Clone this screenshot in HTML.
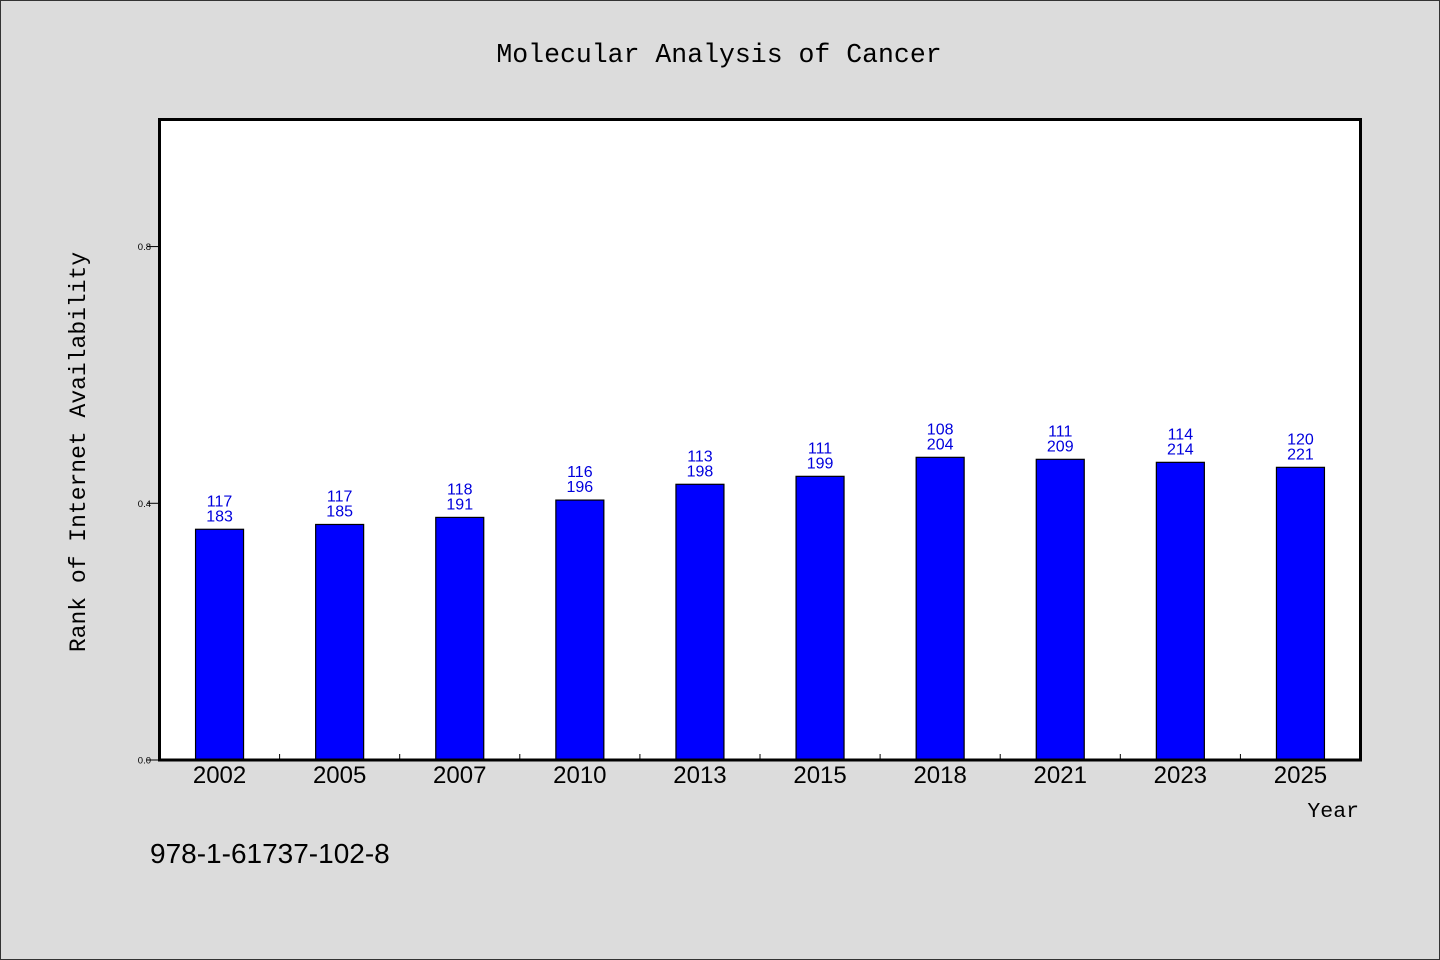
<!DOCTYPE html>
<html><head><meta charset="utf-8"><style>
html,body{margin:0;padding:0;background:#dcdcdc;}
svg{display:block;}
</style></head><body>
<svg width="1440" height="960" viewBox="0 0 1440 960" xmlns="http://www.w3.org/2000/svg">
<rect x="0.5" y="0.5" width="1439" height="959" fill="#dcdcdc" stroke="#333"/>
<text x="719" y="62" text-anchor="middle" font-family="Liberation Mono, monospace" font-size="26.5" fill="#000">Molecular Analysis of Cancer</text>
<rect x="160" y="120" width="1200" height="640" fill="#fff"/>
<g id="bars"></g>
<g id="axes"></g>
<text transform="translate(85,452) rotate(-90)" text-anchor="middle" font-family="Liberation Mono, monospace" font-size="23" fill="#000">Rank of Internet Availability</text>
<text x="1359" y="817" text-anchor="end" font-family="Liberation Mono, monospace" font-size="21.5" fill="#000">Year</text>
<text x="150" y="863" font-family="Liberation Sans, sans-serif" font-size="28" fill="#000">978-1-61737-102-8</text>
</svg>
<script>
const categories = ["2002","2005","2007","2010","2013","2015","2018","2021","2023","2025"];
const values = [0.3595,0.367,0.378,0.405,0.4296,0.442,0.4716,0.4685,0.4638,0.456];
const labelTop = ["117","117","118","116","113","111","108","111","114","120"];
const labelBottom = ["183","185","191","196","198","199","204","209","214","221"];
const yTicks = [0.0,0.4,0.8];
const yTickLabels = ["0.0","0.4","0.8"];

const NS="http://www.w3.org/2000/svg";
const L=159.5,R=1360.5,T=119.5,B=760;
const yMax=0.998;
function y(v){return B-(v/yMax)*(B-T);}
const band=(R-L)/categories.length;
function xc(i){return L+band*(i+0.5);}
function mk(tag,attrs,parent){const e=document.createElementNS(NS,tag);for(const k in attrs)e.setAttribute(k,attrs[k]);parent.appendChild(e);return e;}
const gb=document.getElementById('bars'),ga=document.getElementById('axes');
categories.forEach((c,i)=>{
  const bw=48,top=y(values[i]);
  const r=mk('rect',{x:xc(i)-bw/2,y:top,width:bw,height:B-top,fill:'#0000ff',stroke:'#000','stroke-width':1.2},gb);
  
  
  const t1=mk('text',{x:xc(i),y:top-23,'text-anchor':'middle','font-family':'Liberation Sans, sans-serif','font-size':16,fill:'#0000dd'},gb);
  t1.textContent=labelTop[i];
  
  
  const t2=mk('text',{x:xc(i),y:top-8,'text-anchor':'middle','font-family':'Liberation Sans, sans-serif','font-size':16,fill:'#0000dd'},gb);
  t2.textContent=labelBottom[i];
  
  
  const xl=mk('text',{x:xc(i),y:783,'text-anchor':'middle','font-family':'Liberation Sans, sans-serif','font-size':24,fill:'#000'},ga);
  xl.textContent=c;
  
  
  if(i>0){
    const tk=mk('line',{x1:L+band*i,x2:L+band*i,y1:B,y2:B-6,stroke:'#000','stroke-width':1},ga);
    
    
  }
});
yTicks.forEach((v,i)=>{
  const tk=mk('line',{x1:147,x2:L,y1:y(v),y2:y(v),stroke:'#000','stroke-width':1},ga);
  
  
  const tl=mk('text',{x:151,y:y(v)+3.5,'text-anchor':'end','font-family':'Liberation Sans, sans-serif','font-size':9.5,fill:'#000'},ga);
  tl.textContent=yTickLabels[i];
  
  
});
const frame=mk('rect',{x:L,y:T,width:R-L,height:B-T,fill:'none',stroke:'#000','stroke-width':3},ga);


</script>
</body></html>
